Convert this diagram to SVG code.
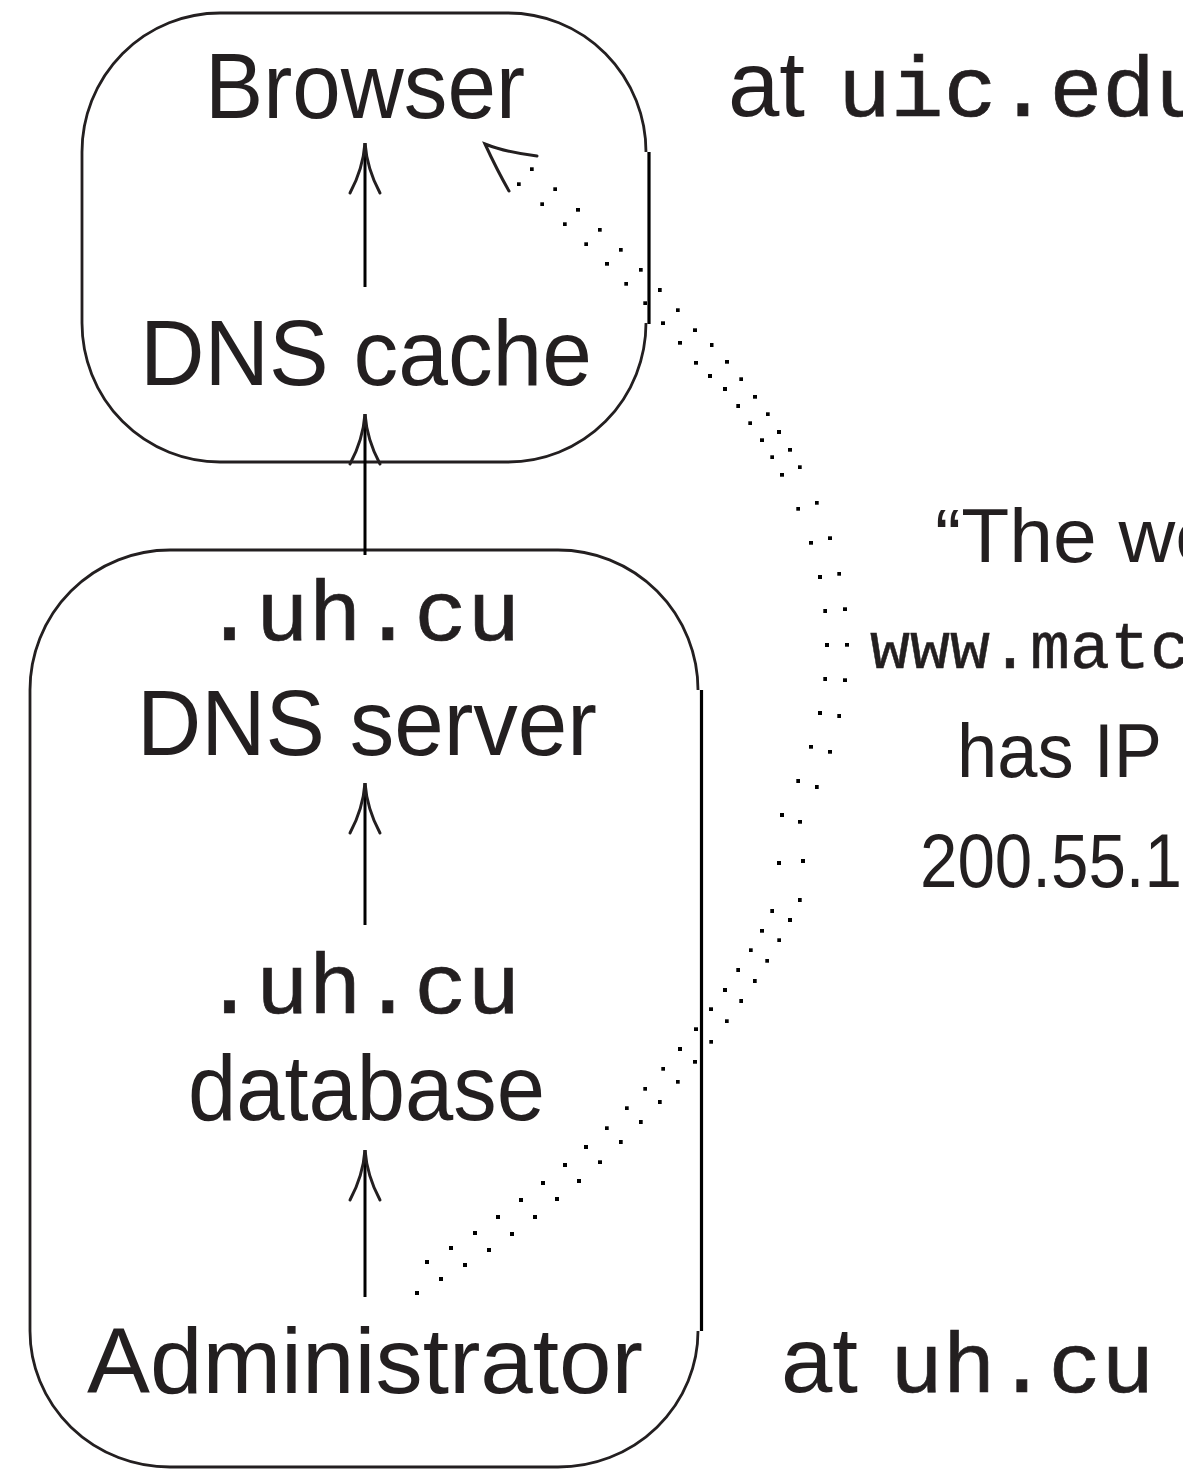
<svg xmlns="http://www.w3.org/2000/svg" width="1183" height="1469" viewBox="0 0 1183 1469">
  <style>
    .sans { font-family: "Liberation Sans", Arial, sans-serif; fill: #231f20; }
    .mono { font-family: "Liberation Mono", "Courier New", monospace; fill: #231f20; stroke: #231f20; stroke-width: 0.7; }
    .big { font-size: 92px; }
    .note { font-size: 76px; }
    .bigmono { font-size: 86px; }
    .notemono { font-size: 66px; stroke-width: 0.5; }
    .frame { fill: none; stroke: #231f20; stroke-width: 2.8; }
    .side { stroke: #000; stroke-width: 3.2; fill: none; }
    .shaft { stroke: #000; stroke-width: 3; fill: none; marker-end: url(#tip); }
    .dots { fill: none; stroke: none; marker-start: url(#dot); marker-mid: url(#dot); marker-end: url(#dot); }
    .head { fill: none; stroke: #231f20; stroke-width: 3; stroke-linecap: round; }
  </style>
  <defs>
    <marker id="tip" markerUnits="userSpaceOnUse" orient="auto" refX="0" refY="0" markerWidth="60" markerHeight="40" viewBox="-55 -20 60 40" overflow="visible">
      <path d="M -50,-15 Q -26,-2 0,0 Q -26,2 -50,15" fill="none" stroke="#231f20" stroke-width="3" stroke-linecap="round"/>
    </marker>
    <marker id="dot" markerUnits="userSpaceOnUse" orient="0" refX="1.6" refY="1.6" markerWidth="4" markerHeight="4" viewBox="0 0 3.2 3.2">
      <rect x="0" y="0" width="3.2" height="3.2" fill="#000"/>
    </marker>
  </defs>

  <!-- client side: browser and its resolver cache -->
  <g id="client-box">
    <path class="frame" d="M 220,13 H 508 A 138,139 0 0 1 646,152 M 646,323 A 138,139 0 0 1 508,462 H 220 A 138,139 0 0 1 82,323 V 152 A 138,139 0 0 1 220,13"/>
    <line class="side" x1="649" y1="152" x2="649" y2="324"/>
  </g>
  <g id="browser">
    <text class="sans big" x="205" y="118" textLength="320" lengthAdjust="spacingAndGlyphs">Browser</text>
  </g>
  <g id="dns-cache">
    <text class="sans big" x="140" y="385" textLength="452" lengthAdjust="spacingAndGlyphs">DNS cache</text>
  </g>
  <g id="site-uic">
    <text class="sans big" x="728" y="116" textLength="77" lengthAdjust="spacingAndGlyphs">at</text>
    <text class="mono bigmono" x="838" y="116" textLength="370" lengthAdjust="spacingAndGlyphs">uic.edu</text>
  </g>

  <!-- server side: name server, zone data, administrator -->
  <g id="server-box">
    <path class="frame" d="M 170,550 H 558 A 140,140 0 0 1 698,690 M 698,1331 A 140,136 0 0 1 558,1467 H 170 A 140,136 0 0 1 30,1331 V 690 A 140,140 0 0 1 170,550"/>
    <line class="side" x1="701.5" y1="690" x2="701.5" y2="1331"/>
  </g>
  <g id="dns-server">
    <text class="mono bigmono" x="203" y="640" textLength="317" lengthAdjust="spacingAndGlyphs">.uh.cu</text>
    <text class="sans big" x="137" y="755" textLength="460" lengthAdjust="spacingAndGlyphs">DNS server</text>
  </g>
  <g id="database">
    <text class="mono bigmono" x="203" y="1013" textLength="317" lengthAdjust="spacingAndGlyphs">.uh.cu</text>
    <text class="sans big" x="188" y="1120" textLength="357" lengthAdjust="spacingAndGlyphs">database</text>
  </g>
  <g id="administrator">
    <text class="sans big" x="87" y="1393" textLength="556" lengthAdjust="spacingAndGlyphs">Administrator</text>
  </g>
  <g id="site-uh">
    <text class="sans big" x="781" y="1392" textLength="77" lengthAdjust="spacingAndGlyphs">at</text>
    <text class="mono bigmono" x="890" y="1392" textLength="264" lengthAdjust="spacingAndGlyphs">uh.cu</text>
  </g>

  <!-- the forged record -->
  <g id="claim">
    <text class="sans note" x="935" y="562" textLength="284" lengthAdjust="spacingAndGlyphs">“The we</text>
    <text class="mono notemono" x="870" y="668" textLength="320" lengthAdjust="spacingAndGlyphs">www.matc</text>
    <text class="sans note" x="957" y="777" textLength="205" lengthAdjust="spacingAndGlyphs">has IP</text>
    <text class="sans note" x="920" y="887" textLength="262" lengthAdjust="spacingAndGlyphs">200.55.1</text>
  </g>

  <g id="connectors">
    <line class="shaft" x1="365" y1="287" x2="365" y2="143"/>
    <line class="shaft" x1="365" y1="555" x2="365" y2="414"/>
    <line class="shaft" x1="365" y1="925" x2="365" y2="783"/>
    <line class="shaft" x1="365" y1="1297" x2="365" y2="1150"/>

    <!-- double dotted route from the administrator up to the browser -->
    <polyline class="dots" points="531.7,169.3 555.3,189.3 578,209.7 599.7,229.7 620.7,249.7 640.7,269.7 659.7,290 677.7,310.3 695,330.3 711.5,345 727,361.7 741.3,379.3 755,396.7 767.7,414.3 779,432 790,449.7 799.7,467.3 816.7,502.7 830,538.3 839.3,573.7 845,609.3 847,644.7 845,680.3 839.3,716 830,751.7 816.7,787 800,821.7 803,861 799.7,900 790,920 779.3,940.3 767.3,960.7 754.7,981 741.3,1001 726.7,1021.3 711.3,1041.7 695,1061.7 677.7,1081.7 659.7,1102 640.7,1122 620.7,1142 600,1162.3 579,1181 557,1199 535,1217 512,1234 489,1250 465,1265 441,1279 417,1293"/>
    <polyline class="dots" points="518.7,184.3 542.3,204.3 564.7,224.3 586.3,244.3 607,263.7 626.3,283.7 645.3,303.3 663,323.3 680,342.7 696,362.7 710,376 725,389 738.3,406 750.3,423.3 762,440.3 772.3,457.3 782,474.7 798.3,508.7 811,542.7 820,577 825.3,611 827,645 825.3,679 820,713 811,746.7 798.3,781 782,815 779,863 772.3,911 762,930.7 750.7,950.3 738.3,970 725,990 711,1009.3 696,1029.3 680,1049 663.3,1068.7 645.3,1088.7 626.7,1108.3 606.7,1128.3 586,1147 565,1165 543,1183 521,1200 498,1217 475,1233 451,1248 427,1262"/>
    <path class="head" d="M 537,156 Q 505,152 485,144 Q 497,170 509,191"/>
  </g>
</svg>
